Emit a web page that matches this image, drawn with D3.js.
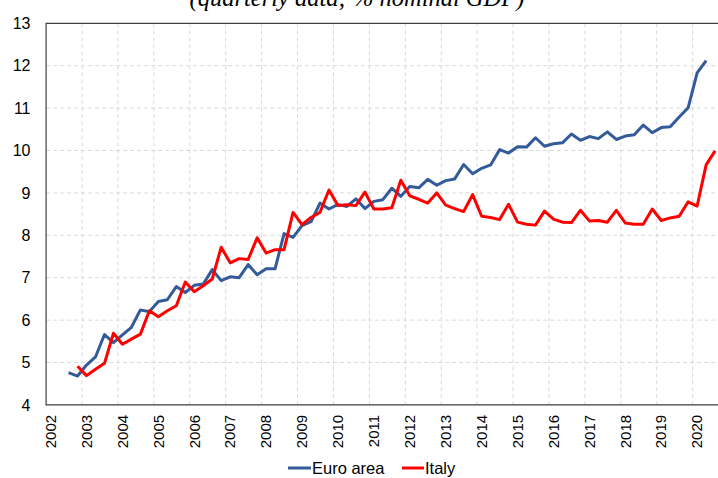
<!DOCTYPE html>
<html>
<head>
<meta charset="utf-8">
<script src="https://cdn.jsdelivr.net/npm/d3@7"></script>
<style>
  body { margin: 0; background: #fff; }
  svg { display: block; font-family: Arial, "Liberation Sans", sans-serif; }
</style>
</head>
<body>
<div id="wrapper"></div>
<script>
// years shown on the axis, quarters are the categories
const years = d3.range(2002, 2021)
const quarters = []
years.forEach(y => [1, 2, 3, 4].forEach(q => quarters.push(`${y}Q${q}`)))

// values in % of nominal GDP, first value of each list sits on its start quarter
const euroStart = "2002Q3"
const euroArea = [
  4.76, 4.68, 4.94, 5.13, 5.66, 5.47, 5.65, 5.83, 6.24, 6.20, 6.44, 6.48, 6.79, 6.65,
  6.82, 6.85, 7.19, 6.93, 7.02, 7.00, 7.31, 7.07, 7.21, 7.21, 8.04, 7.95, 8.23, 8.32,
  8.76, 8.62, 8.73, 8.68, 8.86, 8.63, 8.80, 8.84, 9.11, 8.92, 9.15, 9.12, 9.32, 9.18,
  9.29, 9.33, 9.67, 9.45, 9.58, 9.66, 10.02, 9.94, 10.09, 10.08, 10.30, 10.10, 10.16,
  10.18, 10.39, 10.24, 10.33, 10.28, 10.44, 10.26, 10.34, 10.37, 10.60, 10.42, 10.54,
  10.56, 10.79, 11.01, 11.83, 12.12
]
const italyStart = "2002Q4"
const italy = [
  4.91, 4.69, 4.84, 4.98, 5.69, 5.43, 5.55, 5.67, 6.22, 6.08, 6.22, 6.34, 6.90, 6.67,
  6.81, 6.97, 7.72, 7.35, 7.45, 7.43, 7.94, 7.58, 7.66, 7.66, 8.54, 8.25, 8.42, 8.54,
  9.07, 8.70, 8.72, 8.70, 9.02, 8.62, 8.62, 8.65, 9.30, 8.93, 8.85, 8.76, 9.00, 8.71,
  8.63, 8.56, 8.96, 8.45, 8.42, 8.37, 8.73, 8.31, 8.26, 8.24, 8.57, 8.38, 8.31, 8.30,
  8.59, 8.34, 8.35, 8.31, 8.59, 8.29, 8.26, 8.26, 8.62, 8.35, 8.41, 8.45, 8.79, 8.69,
  9.66, 9.99
]
const yTicks = [4, 5, 6, 7, 8, 9, 10, 11, 12, 13]

const series = [
  { name: "Euro area", start: euroStart, values: euroArea, color: "#335a99" },
  { name: "Italy", start: italyStart, values: italy, color: "#ff0000" },
]

// chart dimensions
const dimensions = {
  width: 718,
  height: 478,
  margin: { top: 23.3, left: 46.1 },
  boundedHeight: 381.6,
  quarterWidth: 8.98,
}

const wrapper = d3.select("#wrapper")
  .append("svg")
    .attr("width", dimensions.width)
    .attr("height", dimensions.height)

// scales
const xScale = d3.scaleBand()
    .domain(quarters)
    .range([dimensions.margin.left, dimensions.margin.left + quarters.length * dimensions.quarterWidth])
    .padding(0)

const yScale = d3.scaleLinear()
    .domain([4, 13])
    .range([dimensions.margin.top + dimensions.boundedHeight, dimensions.margin.top])

const xLeft = xScale.range()[0]
const xRight = xScale.range()[1]
const yBottom = yScale(4)
const yTop = yScale(13)

// title, cut off at the top like the source
wrapper.append("text")
    .attr("x", 357)
    .attr("y", 6)
    .attr("text-anchor", "middle")
    .style("font-family", "'Liberation Serif', 'Times New Roman', serif")
    .style("font-style", "italic")
    .style("font-size", "24.5px")
    .attr("fill", "#000")
    .text("(quarterly data; % nominal GDP)")

// gridlines
const grid = wrapper.append("g")
    .attr("stroke", "#d9d9d9")
    .attr("stroke-width", 1)
    .attr("stroke-dasharray", "4,3")

grid.selectAll(".hgrid")
  .data(yTicks.filter(d => d > 4 && d < 13))
  .join("line")
    .attr("x1", xLeft)
    .attr("x2", xRight)
    .attr("y1", d => yScale(d))
    .attr("y2", d => yScale(d))

grid.selectAll(".vgrid")
  .data(years.slice(1))
  .join("line")
    .attr("x1", d => xScale(`${d}Q1`))
    .attr("x2", d => xScale(`${d}Q1`))
    .attr("y1", yTop)
    .attr("y2", yBottom)

// plot border
wrapper.append("path")
    .attr("d", `M${xRight},${yTop}H${xLeft}V${yBottom}H${xRight}`)
    .attr("fill", "none")
    .attr("stroke", "#404040")
    .attr("stroke-width", 1.2)

// y axis labels
wrapper.append("g")
  .selectAll("text")
  .data(yTicks)
  .join("text")
    .attr("x", 30.5)
    .attr("y", d => yScale(d))
    .attr("dy", "0.35em")
    .attr("text-anchor", "end")
    .style("font-size", "16px")
    .attr("fill", "#000")
    .text(d => d)

// x axis labels, rotated
wrapper.append("g")
  .selectAll("text")
  .data(years)
  .join("text")
    .attr("transform", d => `translate(${xScale(`${d}Q1`) + xScale.bandwidth() / 2},${yBottom + 10}) rotate(-90)`)
    .attr("dy", "0.35em")
    .attr("text-anchor", "end")
    .style("font-size", "15px")
    .attr("fill", "#000")
    .text(d => d)

// lines
const line = d3.line()
    .x(d => xScale(d.q) + xScale.bandwidth() / 2)
    .y(d => yScale(d.v))

series.forEach(s => {
  const startIndex = quarters.indexOf(s.start)
  const points = s.values.map((v, i) => ({ q: quarters[startIndex + i], v }))
  wrapper.append("path")
      .datum(points)
      .attr("d", line)
      .attr("fill", "none")
      .attr("stroke", s.color)
      .attr("stroke-width", 3)
      .attr("stroke-linejoin", "round")
})

// legend
const legendItems = [
  { x: 288, width: 23 },
  { x: 402, width: 22 },
]
const legend = wrapper.append("g")
legend.selectAll("g")
  .data(series)
  .join("g")
    .attr("transform", (d, i) => `translate(${legendItems[i].x},468)`)
    .each(function (d, i) {
      const g = d3.select(this)
      g.append("line")
          .attr("x1", 0)
          .attr("x2", legendItems[i].width)
          .attr("stroke", d.color)
          .attr("stroke-width", 3)
      g.append("text")
          .attr("x", legendItems[i].width + 1)
          .attr("dy", "0.35em")
          .style("font-size", "16.5px")
          .attr("fill", "#000")
          .text(d.name)
    })
</script>
</body>
</html>
